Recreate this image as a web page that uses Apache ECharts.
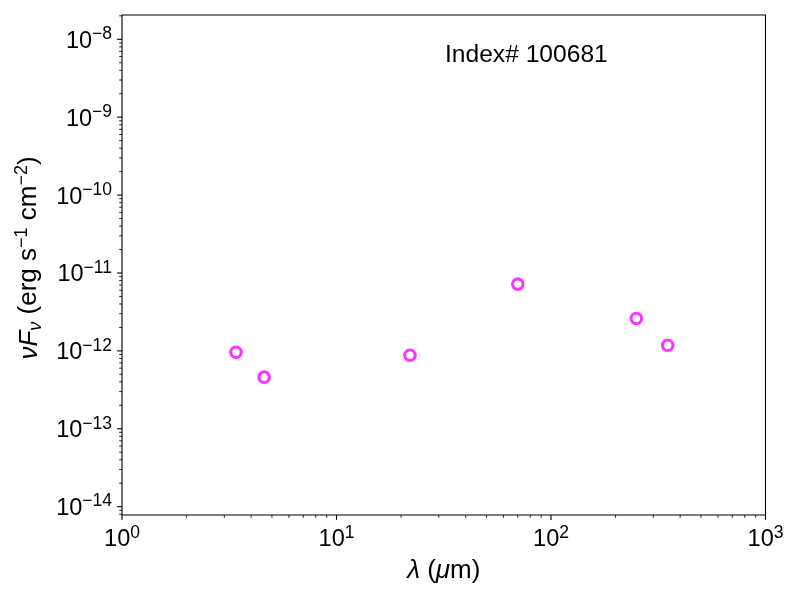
<!DOCTYPE html>
<html>
<head>
<meta charset="utf-8">
<script src="https://cdn.jsdelivr.net/npm/echarts@6/dist/echarts.min.js"></script>
<style>
  html, body { margin: 0; padding: 0; background: #fff; }
  #main { width: 800px; height: 600px; }
</style>
</head>
<body>
<div id="main"></div>
<script>
// SED photometry points (wavelength in micron, nuFnu in erg s^-1 cm^-2)
var wavelength = [3.4, 4.6, 22, 70, 250, 350];
var nuFnu = [9.6e-13, 4.6e-13, 8.8e-13, 7.2e-12, 2.6e-12, 1.18e-12];

// axis ranges and tick decades
var xRange = [1, 1000];
var yRange = [Math.pow(10, -14.107), Math.pow(10, -7.688)];
var xDecades = [0, 1, 2, 3];
var yDecades = [-15, -14, -13, -12, -11, -10, -9, -8];
var minorSteps = [2, 3, 4, 5, 6, 7, 8, 9];

var FONT = 'Liberation Sans';
var MAJOR_LEN = 4.9, MINOR_LEN = 2.8;

// tick marks: [value, length]
function buildTicks(decades, range) {
  var out = [];
  decades.forEach(function (d) {
    var base = Math.pow(10, d);
    if (base >= range[0] * 0.999 && base <= range[1] * 1.001) out.push([base, MAJOR_LEN]);
    minorSteps.forEach(function (m) {
      var v = m * base;
      if (v >= range[0] && v <= range[1]) out.push([v, MINOR_LEN]);
    });
  });
  return out;
}
var xTicks = buildTicks(xDecades, xRange).map(function (t) { return [t[0], yRange[0], t[1]]; });
var yTicks = buildTicks(yDecades, yRange).map(function (t) { return [xRange[0], t[0], t[1]]; });

var points = wavelength.map(function (w, i) { return [w, nuFnu[i]]; });

function powLabel(v) {
  var e = Math.log10(v);
  var r = Math.round(e);
  if (Math.abs(e - r) > 1e-6) return '';
  return '{b|10}{s|' + String(r).replace('-', '\u2212') + '}';
}

var labelRich = {
  b: { fontSize: 23.5, fontFamily: FONT, color: '#000', lineHeight: 28, verticalAlign: 'bottom' },
  s: { fontSize: 17.5, fontFamily: FONT, color: '#000', lineHeight: 28, verticalAlign: 'top', padding: [0, 0, 9, 0] }
};

var myChart = echarts.init(document.getElementById('main'));

var option = {
  animation: false,
  title: {
    text: 'Index# 100681',
    left: 445,
    top: 43,
    padding: 0,
    textStyle: { fontSize: 24.6, fontWeight: 'normal', fontFamily: FONT, color: '#000' }
  },
  grid: {
    left: 122, right: 34.5, top: 15, bottom: 85,
    show: true, borderColor: '#000', borderWidth: 1.1, backgroundColor: '#fff'
  },
  xAxis: {
    type: 'log',
    logBase: 10,
    min: xRange[0],
    max: xRange[1],
    axisLine: { show: false },
    axisTick: { show: false },
    splitLine: { show: false },
    minorTick: { show: false },
    axisLabel: {
      margin: 9,
      showMinLabel: true,
      showMaxLabel: true,
      formatter: powLabel,
      rich: labelRich
    },
    name: '{i|\u03bb}{n| (}{i|\u03bc}{n|m)}',
    nameLocation: 'middle',
    nameGap: 43,
    nameTextStyle: {
      rich: {
        i: { fontSize: 26, fontFamily: FONT, fontStyle: 'italic', color: '#000' },
        n: { fontSize: 26, fontFamily: FONT, color: '#000' }
      }
    }
  },
  yAxis: {
    type: 'log',
    logBase: 10,
    min: yRange[0],
    max: yRange[1],
    axisLine: { show: false },
    axisTick: { show: false },
    splitLine: { show: false },
    minorTick: { show: false },
    axisLabel: {
      margin: 10,
      showMinLabel: true,
      showMaxLabel: true,
      formatter: powLabel,
      rich: labelRich
    },
    name: '{i|\u03bdF}{sub|\u03bd}{n| (erg s}{sup|\u22121}{n| cm}{sup|\u22122}{n|)}',
    nameLocation: 'middle',
    nameGap: 70,
    nameRotate: 90,
    nameTextStyle: {
      padding: [0, 0, 0, 14],
      rich: {
        i: { fontSize: 26, fontFamily: FONT, fontStyle: 'italic', color: '#000', lineHeight: 32, verticalAlign: 'middle' },
        sub: { fontSize: 18, fontFamily: FONT, fontStyle: 'italic', color: '#000', lineHeight: 32, verticalAlign: 'bottom', padding: [4, 0, 0, 0] },
        n: { fontSize: 26, fontFamily: FONT, color: '#000', lineHeight: 32, verticalAlign: 'middle' },
        sup: { fontSize: 18, fontFamily: FONT, color: '#000', lineHeight: 32, verticalAlign: 'top' }
      }
    }
  },
  series: [
    {
      name: 'photometry',
      type: 'scatter',
      data: points,
      symbol: 'circle',
      symbolSize: 10.5,
      itemStyle: { color: 'rgba(0,0,0,0)', borderColor: '#ff00ff', borderWidth: 3.1 },
      z: 5
    },
    {
      // x ticks drawn below the bottom axis, matplotlib style
      type: 'custom',
      silent: true,
      clip: false,
      data: xTicks,
      encode: { x: 0, y: 1 },
      renderItem: function (params, api) {
        var p = api.coord([api.value(0), api.value(1)]);
        var len = api.value(2);
        return {
          type: 'line',
          shape: { x1: p[0], y1: p[1], x2: p[0], y2: p[1] + len },
          style: { stroke: '#000', lineWidth: len > 4 ? 1.1 : 0.85 }
        };
      }
    },
    {
      // y ticks drawn left of the left axis
      type: 'custom',
      silent: true,
      clip: false,
      data: yTicks,
      encode: { x: 0, y: 1 },
      renderItem: function (params, api) {
        var p = api.coord([api.value(0), api.value(1)]);
        var len = api.value(2);
        return {
          type: 'line',
          shape: { x1: p[0], y1: p[1], x2: p[0] - len, y2: p[1] },
          style: { stroke: '#000', lineWidth: len > 4 ? 1.1 : 0.85 }
        };
      }
    }
  ]
};

myChart.setOption(option);
</script>
</body>
</html>
